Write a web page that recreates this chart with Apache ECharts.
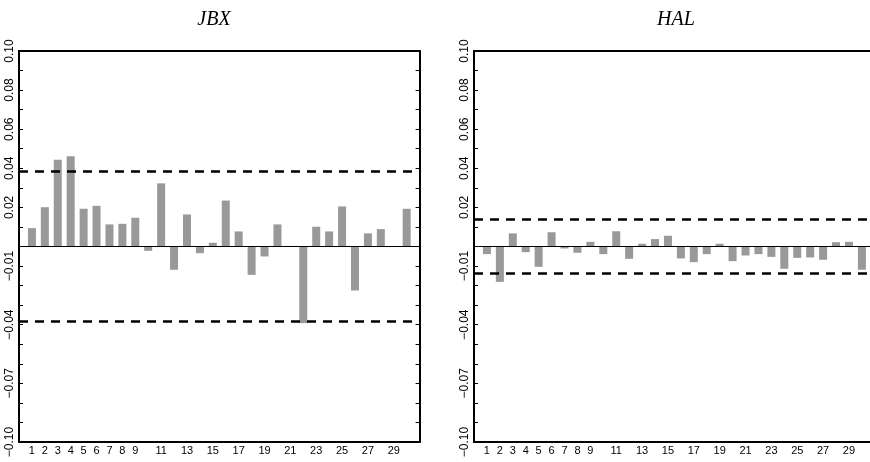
<!DOCTYPE html>
<html>
<head>
<meta charset="utf-8">
<script src="https://cdn.jsdelivr.net/npm/echarts@6/dist/echarts.min.js"></script>
<style>
  html, body { margin: 0; padding: 0; background: #fff; }
  #chart { width: 870px; height: 462px; }
</style>
</head>
<body>
<div id="chart"></div>
<script>
// lags 1..30
const lags = Array.from({ length: 30 }, (_, i) => i + 1)
const jbxAcf = [
  0.0094, 0.0201, 0.0444, 0.0461, 0.0193, 0.0208, 0.0113, 0.0116, 0.0147, -0.0022,
  0.0323, -0.0119, 0.0164, -0.0034, 0.0019, 0.0235, 0.0077, -0.0145, -0.0051, 0.0113,
  0.0003, -0.0392, 0.0101, 0.0077, 0.0205, -0.0225, 0.0067, 0.0089, 0.0002, 0.0193
]
const halAcf = [
  -0.0039, -0.0181, 0.0067, -0.0029, -0.0104, 0.0073, -0.0010, -0.0032, 0.0024, -0.0039,
  0.0078, -0.0063, 0.0014, 0.0038, 0.0055, -0.0061, -0.0080, -0.0039, 0.0014, -0.0075,
  -0.0046, -0.0039, -0.0053, -0.0114, -0.0058, -0.0056, -0.0068, 0.0022, 0.0024, -0.0119
]
const jbxBand = 0.0384
const halBand = 0.0137
const panelTitles = ['JBX', 'HAL']
const yTickValues = [0.10, 0.08, 0.06, 0.04, 0.02, -0.01, -0.04, -0.07, -0.10]
const yTickLabels = ['0.10', '0.08', '0.06', '0.04', '0.02', '\u22120.01', '\u22120.04', '\u22120.07', '\u22120.10']
const xTickLabels = [1, 2, 3, 4, 5, 6, 7, 8, 9, 11, 13, 15, 17, 19, 21, 23, 25, 27, 29]

const yLabelMap = {}
yTickValues.forEach((v, i) => { yLabelMap[Math.round(v * 100)] = yTickLabels[i] })

const chart = echarts.init(document.getElementById('chart'))

// right panel runs past the page edge, so its x range is cut at the page
const grids = [
  { left: 19, top: 51, width: 400.6, height: 391 },
  { left: 474, top: 51, width: 396, height: 391 }
]
const xMax = [31, 396 / 12.93]

const frameLine = { show: true, onZero: false, lineStyle: { color: '#000', width: 2 } }

const makeX = (gi, pos, labels) => ({
  type: 'value', gridIndex: gi, position: pos, min: 0, max: xMax[gi], interval: 1,
  axisLine: frameLine,
  axisTick: { show: false },
  splitLine: { show: false },
  axisLabel: {
    show: labels, margin: 3, fontSize: 11, color: '#000', fontFamily: 'Liberation Sans',
    showMinLabel: false, showMaxLabel: false,
    formatter: (v) => xTickLabels.includes(v) ? String(v) : ''
  }
})

const makeY = (gi, pos, labels, show) => ({
  type: 'value', gridIndex: gi, position: pos, show: show, min: -0.1, max: 0.1, interval: 0.01,
  axisLine: frameLine,
  axisTick: { show: true, inside: true, length: 4, lineStyle: { color: '#000', width: 1 } },
  splitLine: { show: false },
  axisLabel: {
    show: labels, rotate: 90, margin: 3, fontSize: 12, color: '#000', fontFamily: 'Liberation Sans',
    formatter: (v) => yLabelMap[Math.round(v * 100)] || ''
  }
})

const dashed = { color: '#000', width: 2.5, type: [9, 7] }

const makeSeries = (gi, data, band) => ({
  type: 'bar', xAxisIndex: gi * 2, yAxisIndex: gi * 2,
  data: lags.map((l, i) => [l, data[i]]),
  barWidth: 8,
  itemStyle: { color: '#999999' },
  markLine: {
    silent: true, symbol: 'none', precision: 5, label: { show: false },
    data: [
      { yAxis: band, lineStyle: dashed },
      { yAxis: -band, lineStyle: dashed },
      { yAxis: 0, lineStyle: { color: '#000', width: 1, type: 'solid' } }
    ]
  }
})

const titleStyle = { fontFamily: 'Liberation Serif', fontStyle: 'italic', fontWeight: 'normal', fontSize: 20, color: '#000' }

const option = {
  animation: false,
  backgroundColor: '#fff',
  title: [
    { text: panelTitles[0], left: 209, top: 5, textAlign: 'center', textStyle: titleStyle },
    { text: panelTitles[1], left: 671, top: 5, textAlign: 'center', textStyle: titleStyle }
  ],
  grid: grids,
  xAxis: [makeX(0, 'bottom', true), makeX(0, 'top', false), makeX(1, 'bottom', true), makeX(1, 'top', false)],
  yAxis: [makeY(0, 'left', true, true), makeY(0, 'right', false, true), makeY(1, 'left', true, true), makeY(1, 'right', false, false)],
  series: [makeSeries(0, jbxAcf, jbxBand), makeSeries(1, halAcf, halBand)]
}
chart.setOption(option)
</script>
</body>
</html>
